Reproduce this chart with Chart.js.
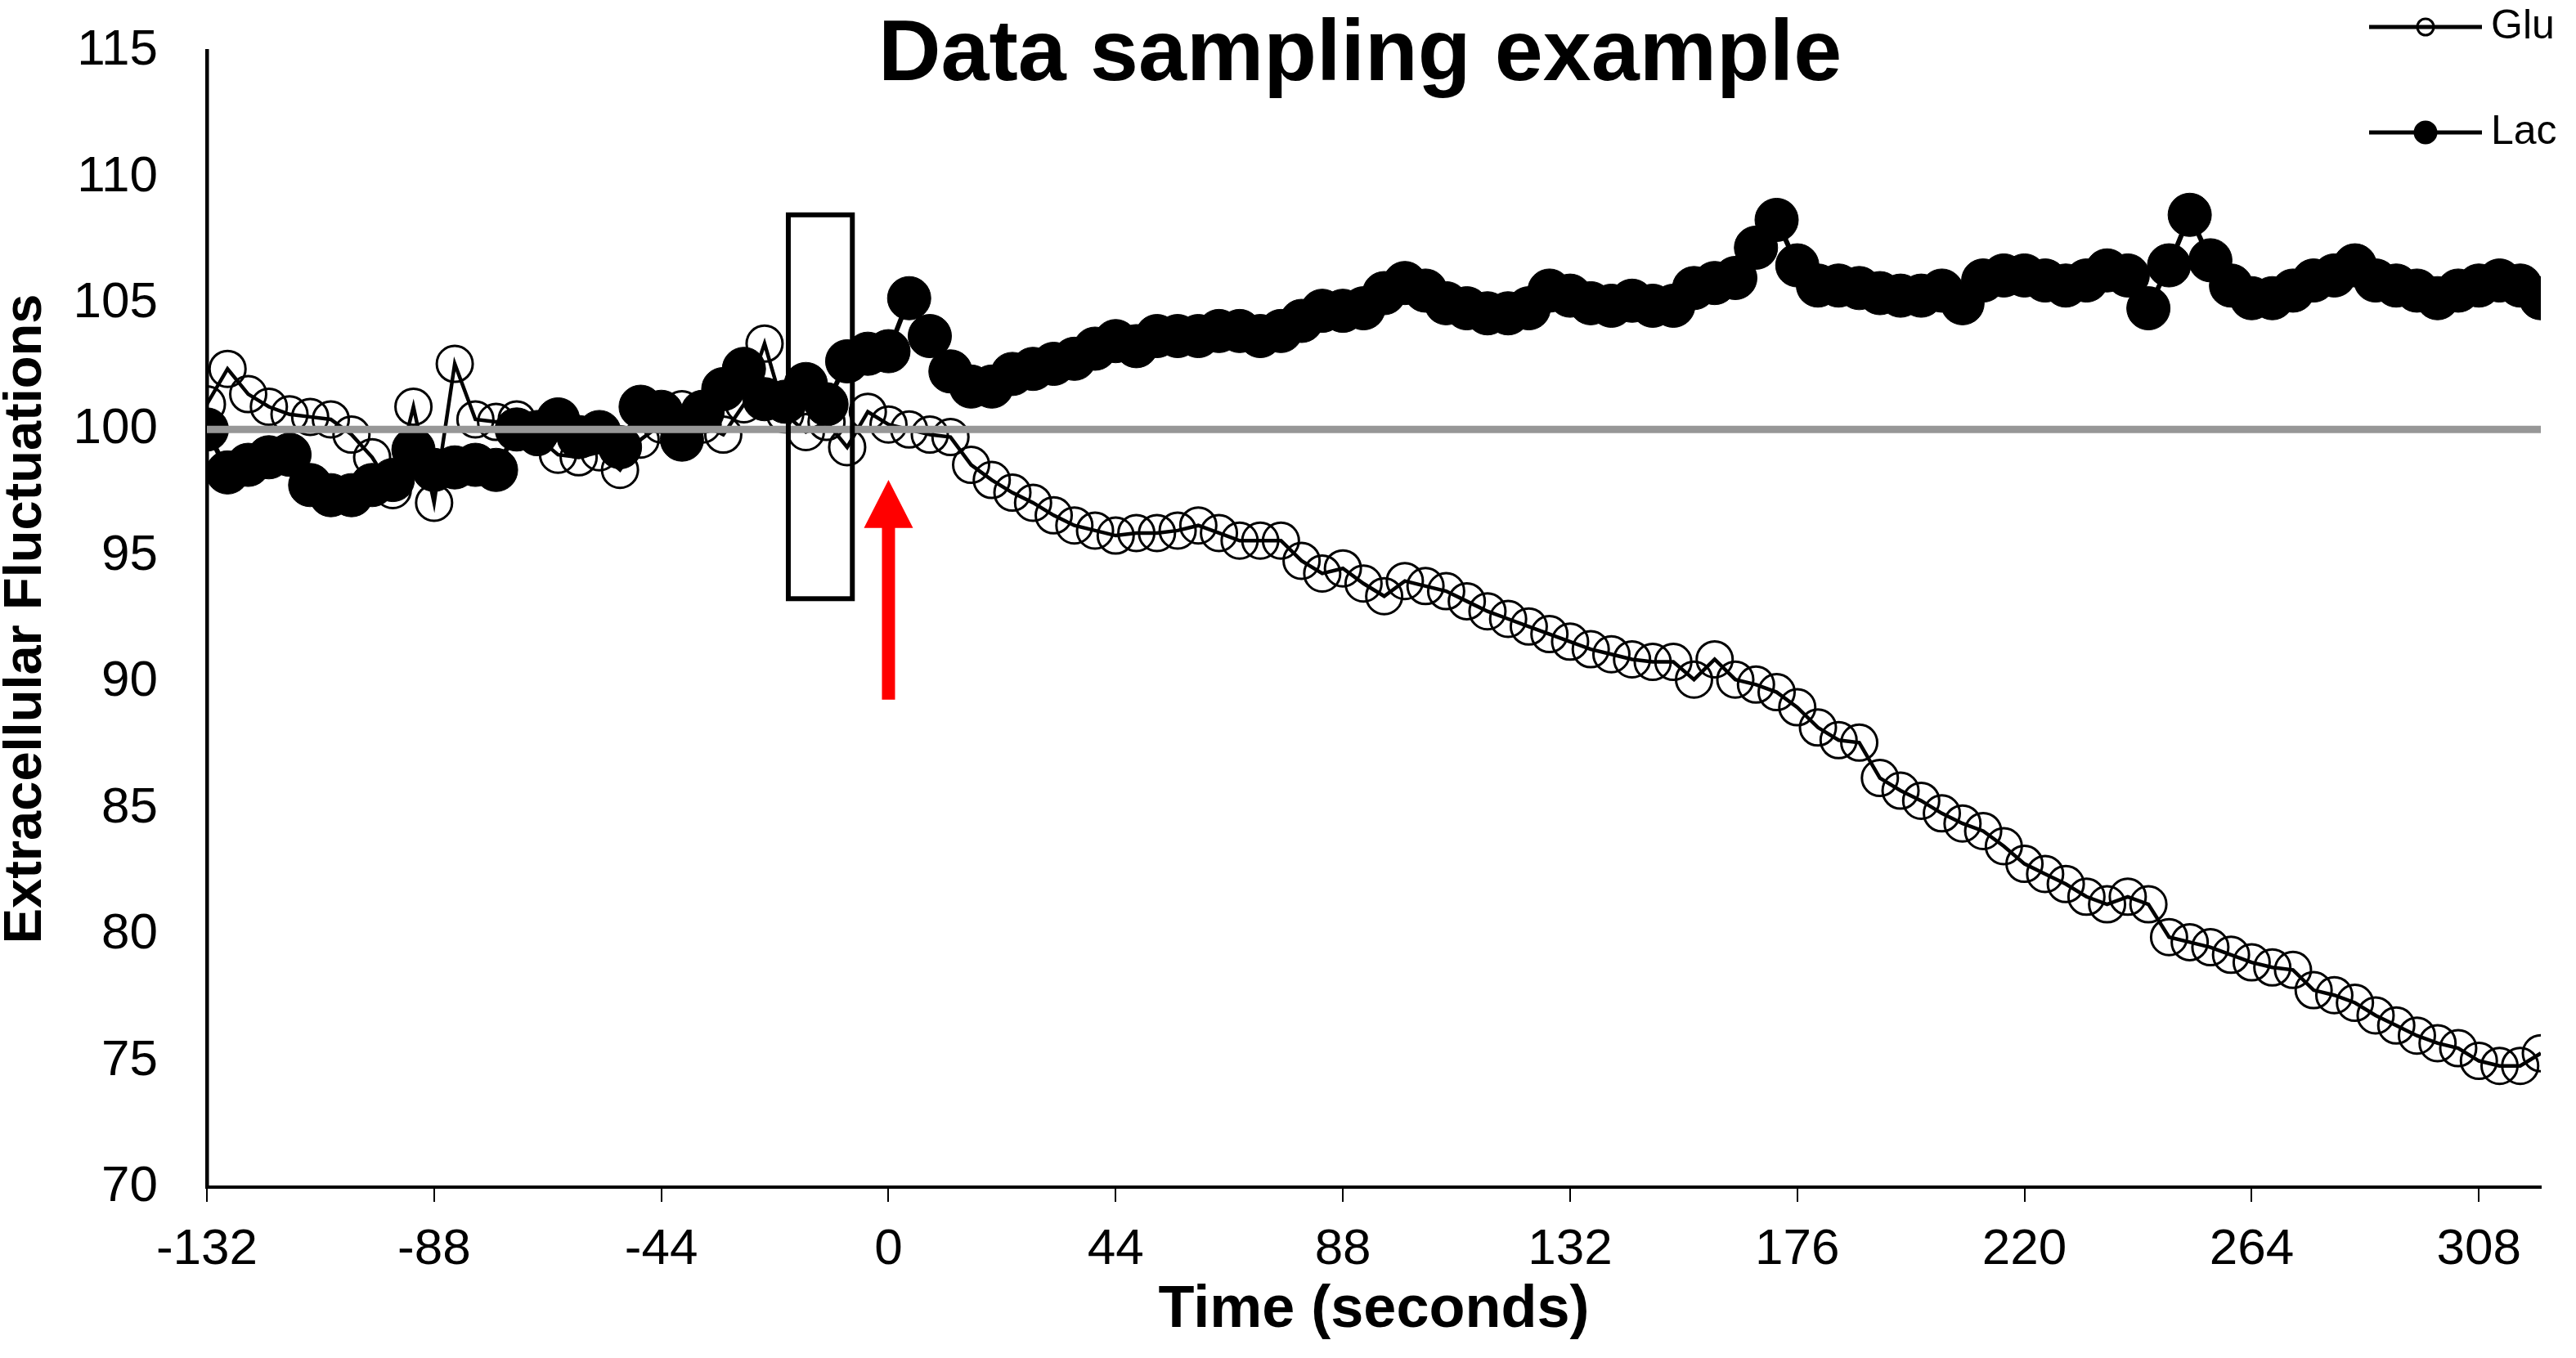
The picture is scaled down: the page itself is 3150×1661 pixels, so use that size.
<!DOCTYPE html>
<html>
<head>
<meta charset="utf-8">
<title>Data sampling example</title>
<script src="https://cdn.jsdelivr.net/npm/chart.js@4.4.1/dist/chart.umd.min.js"></script>
<style>
  html, body { margin: 0; padding: 0; background: #fff; }
  canvas { display: block; }
</style>
</head>
<body>
<canvas id="chart" width="3150" height="1661"></canvas>
<script>
// sample times (seconds, 0 = stimulus)
const times = [
  -132, -128, -124, -120, -116, -112, -108, -104, -100, -96,
  -92, -88, -84, -80, -76, -72, -68, -64, -60, -56,
  -52, -48, -44, -40, -36, -32, -28, -24, -20, -16,
  -12, -8, -4, 0, 4, 8, 12, 16, 20, 24,
  28, 32, 36, 40, 44, 48, 52, 56, 60, 64,
  68, 72, 76, 80, 84, 88, 92, 96, 100, 104,
  108, 112, 116, 120, 124, 128, 132, 136, 140, 144,
  148, 152, 156, 160, 164, 168, 172, 176, 180, 184,
  188, 192, 196, 200, 204, 208, 212, 216, 220, 224,
  228, 232, 236, 240, 244, 248, 252, 256, 260, 264,
  268, 272, 276, 280, 284, 288, 292, 296, 300, 304,
  308, 312, 316, 320
];

const glu = [
  101.0, 102.4, 101.4, 100.9, 100.6, 100.5, 100.4, 99.8, 98.9, 97.6,
  100.9, 97.1, 102.6, 100.4, 100.3, 100.4, 99.7, 99.0, 98.9, 99.1,
  98.4, 99.6, 100.2, 100.8, 100.2, 99.8, 101.0, 103.4, 100.6, 99.9,
  100.3, 99.3, 100.7, 100.2, 100.0, 99.8, 99.7, 98.6, 98.0, 97.5,
  97.1, 96.6, 96.2, 96.0, 95.8, 95.9, 95.9, 96.0, 96.2, 95.9,
  95.6, 95.6, 95.6, 94.8, 94.3, 94.5, 93.9, 93.4, 94.0, 93.8,
  93.6, 93.2, 92.8, 92.5, 92.2, 91.9, 91.6, 91.3, 91.1, 90.9,
  90.8, 90.8, 90.1, 90.9, 90.1, 89.9, 89.6, 89.0, 88.2, 87.7,
  87.6, 86.2, 85.7, 85.3, 84.8, 84.4, 84.1, 83.5, 82.8, 82.4,
  82.0, 81.5, 81.2, 81.5, 81.2, 79.9, 79.7, 79.5, 79.2, 78.9,
  78.7, 78.6, 77.8, 77.6, 77.3, 76.8, 76.4, 76.0, 75.7, 75.5,
  75.0, 74.8, 74.8, 75.3
];

const lac = [
  100.0, 98.3, 98.6, 98.9, 99.0, 97.8, 97.4, 97.4, 97.8, 98.0,
  99.2, 98.4, 98.5, 98.6, 98.4, 100.0, 99.9, 100.4, 99.7, 99.9,
  99.3, 100.9, 100.7, 99.6, 100.7, 101.6, 102.4, 101.2, 101.1, 101.8,
  101.0, 102.7, 103.0, 103.1, 105.2, 103.7, 102.3, 101.7, 101.7, 102.2,
  102.4, 102.6, 102.8, 103.2, 103.5, 103.3, 103.7, 103.7, 103.7, 103.9,
  103.9, 103.7, 103.9, 104.3, 104.7, 104.7, 104.8, 105.4, 105.8, 105.5,
  105.0, 104.8, 104.6, 104.6, 104.8, 105.5, 105.3, 105.0, 104.9, 105.1,
  104.9, 104.9, 105.6, 105.8, 106.0, 107.2, 108.3, 106.5, 105.7, 105.7,
  105.6, 105.4, 105.3, 105.3, 105.5, 105.0, 105.9, 106.1, 106.1, 105.9,
  105.7, 105.9, 106.3, 106.1, 104.8, 106.5, 108.5, 106.7, 105.7, 105.2,
  105.2, 105.5, 105.9, 106.1, 106.5, 105.9, 105.7, 105.5, 105.2, 105.5,
  105.7, 105.9, 105.7, 105.2
];

// 100 % reference line
const baselineTimes = [-132, 320];
const baselineValues = [100, 100];

const xTicks = [-132, -88, -44, 0, 44, 88, 132, 176, 220, 264, 308];
const yTicks = [70, 75, 80, 85, 90, 95, 100, 105, 110, 115];

// sampling window and stimulus arrow, in data units
const samplingBox = { from: -19.4, to: -7.0, top: 108.5, bottom: 93.3 };
const stimulus = { at: 0, tip: 98.0, headBase: 96.1, tail: 89.3 };

const FONT = '"Liberation Sans", Arial, Helvetica, sans-serif';
Chart.defaults.font.family = FONT;
Chart.defaults.color = '#000';

function toPoints(xs, ys) {
  return xs.map((t, i) => ({ x: t, y: ys[i] }));
}

// title, legend, box and arrow
const extras = {
  id: 'extras',
  afterDatasetsDraw(chart) {
    const { ctx } = chart;
    const x = chart.scales.x, y = chart.scales.y;
    ctx.save();

    // sampling box
    const bx1 = x.getPixelForValue(samplingBox.from);
    const bx2 = x.getPixelForValue(samplingBox.to);
    const by1 = y.getPixelForValue(samplingBox.top);
    const by2 = y.getPixelForValue(samplingBox.bottom);
    ctx.strokeStyle = '#000';
    ctx.lineWidth = 6;
    ctx.strokeRect(bx1, by1, bx2 - bx1, by2 - by1);

    // red arrow at stimulus
    const ax = x.getPixelForValue(stimulus.at);
    const tipY = y.getPixelForValue(stimulus.tip);
    const baseY = y.getPixelForValue(stimulus.headBase);
    const tailY = y.getPixelForValue(stimulus.tail);
    ctx.fillStyle = '#ff0000';
    ctx.beginPath();
    ctx.moveTo(ax, tipY);
    ctx.lineTo(ax + 30, baseY);
    ctx.lineTo(ax + 8, baseY);
    ctx.lineTo(ax + 8, tailY);
    ctx.lineTo(ax - 8, tailY);
    ctx.lineTo(ax - 8, baseY);
    ctx.lineTo(ax - 30, baseY);
    ctx.closePath();
    ctx.fill();
    ctx.restore();
  },
  afterDraw(chart) {
    const { ctx } = chart;
    ctx.save();

    // chart title
    ctx.fillStyle = '#000';
    ctx.font = 'bold 106px ' + FONT;
    ctx.textAlign = 'center';
    ctx.textBaseline = 'alphabetic';
    ctx.fillText('Data sampling example', 1663, 98);

    // legend, top right
    let row = 0;
    chart.data.datasets.forEach(ds => {
      if (ds.inLegend === false) return;
      const ly = 33 + row * 129;
      ctx.strokeStyle = '#000';
      ctx.lineWidth = 5;
      ctx.beginPath();
      ctx.moveTo(2897, ly);
      ctx.lineTo(3035, ly);
      ctx.stroke();
      ctx.beginPath();
      ctx.arc(2966, ly, ds.legendRadius, 0, Math.PI * 2);
      if (ds.pointBackgroundColor !== 'rgba(0,0,0,0)') {
        ctx.fillStyle = '#000';
        ctx.fill();
      }
      ctx.lineWidth = 3;
      ctx.stroke();
      ctx.fillStyle = '#000';
      ctx.font = '50px ' + FONT;
      ctx.textAlign = 'left';
      ctx.textBaseline = 'middle';
      ctx.fillText(ds.label, 3046, ly);
      row++;
    });
    ctx.restore();
  }
};

new Chart(document.getElementById('chart'), {
  type: 'line',
  data: {
    datasets: [
      {
        label: 'Glu',
        data: toPoints(times, glu),
        borderColor: '#000',
        borderWidth: 4.5,
        pointRadius: 22,
        pointBorderWidth: 3,
        pointBorderColor: '#000',
        pointBackgroundColor: 'rgba(0,0,0,0)',
        legendRadius: 10,
        tension: 0,
        order: 2
      },
      {
        label: 'Lac',
        data: toPoints(times, lac),
        borderColor: '#000',
        borderWidth: 6,
        pointRadius: 26.5,
        pointBorderWidth: 1,
        pointBorderColor: '#000',
        pointBackgroundColor: '#000',
        legendRadius: 13,
        tension: 0,
        order: 1
      },
      {
        label: 'baseline',
        data: toPoints(baselineTimes, baselineValues),
        borderColor: '#979797',
        borderWidth: 9,
        pointRadius: 0,
        inLegend: false,
        order: 0
      }
    ]
  },
  options: {
    responsive: false,
    devicePixelRatio: 1,
    animation: false,
    events: [],
    layout: { padding: { left: 0, right: 43, top: 62, bottom: 0 } },
    plugins: {
      legend: { display: false },
      title: { display: false },
      tooltip: { enabled: false }
    },
    scales: {
      x: {
        type: 'linear',
        min: -132,
        max: 320,
        afterBuildTicks: s => { s.ticks = xTicks.map(v => ({ value: v })); },
        afterFit: s => { s.height = 209; },
        grid: { drawOnChartArea: false, drawTicks: true, tickLength: 18, color: '#000', lineWidth: 2 },
        border: { color: '#000', width: 4 },
        ticks: { color: '#000', font: { size: 62 }, padding: 22, maxRotation: 0, autoSkip: false },
        title: {
          display: true,
          text: 'Time (seconds)',
          color: '#000',
          font: { size: 72, weight: 'bold' },
          padding: { top: 0, bottom: 15 }
        }
      },
      y: {
        min: 70,
        max: 115,
        afterBuildTicks: s => { s.ticks = yTicks.map(v => ({ value: v })); },
        afterFit: s => { s.width = 253; },
        // invisible tick marks give the gap between labels and axis
        grid: { drawOnChartArea: false, drawTicks: true, tickLength: 60, color: 'rgba(0,0,0,0)' },
        border: { color: '#000', width: 4.5 },
        ticks: { color: '#000', font: { size: 62 }, padding: 0 },
        title: {
          display: true,
          text: 'Extracellular Fluctuations',
          color: '#000',
          font: { size: 65, weight: 'bold', lineHeight: 1 },
          padding: 0
        }
      }
    }
  },
  plugins: [extras]
});
</script>
</body>
</html>
